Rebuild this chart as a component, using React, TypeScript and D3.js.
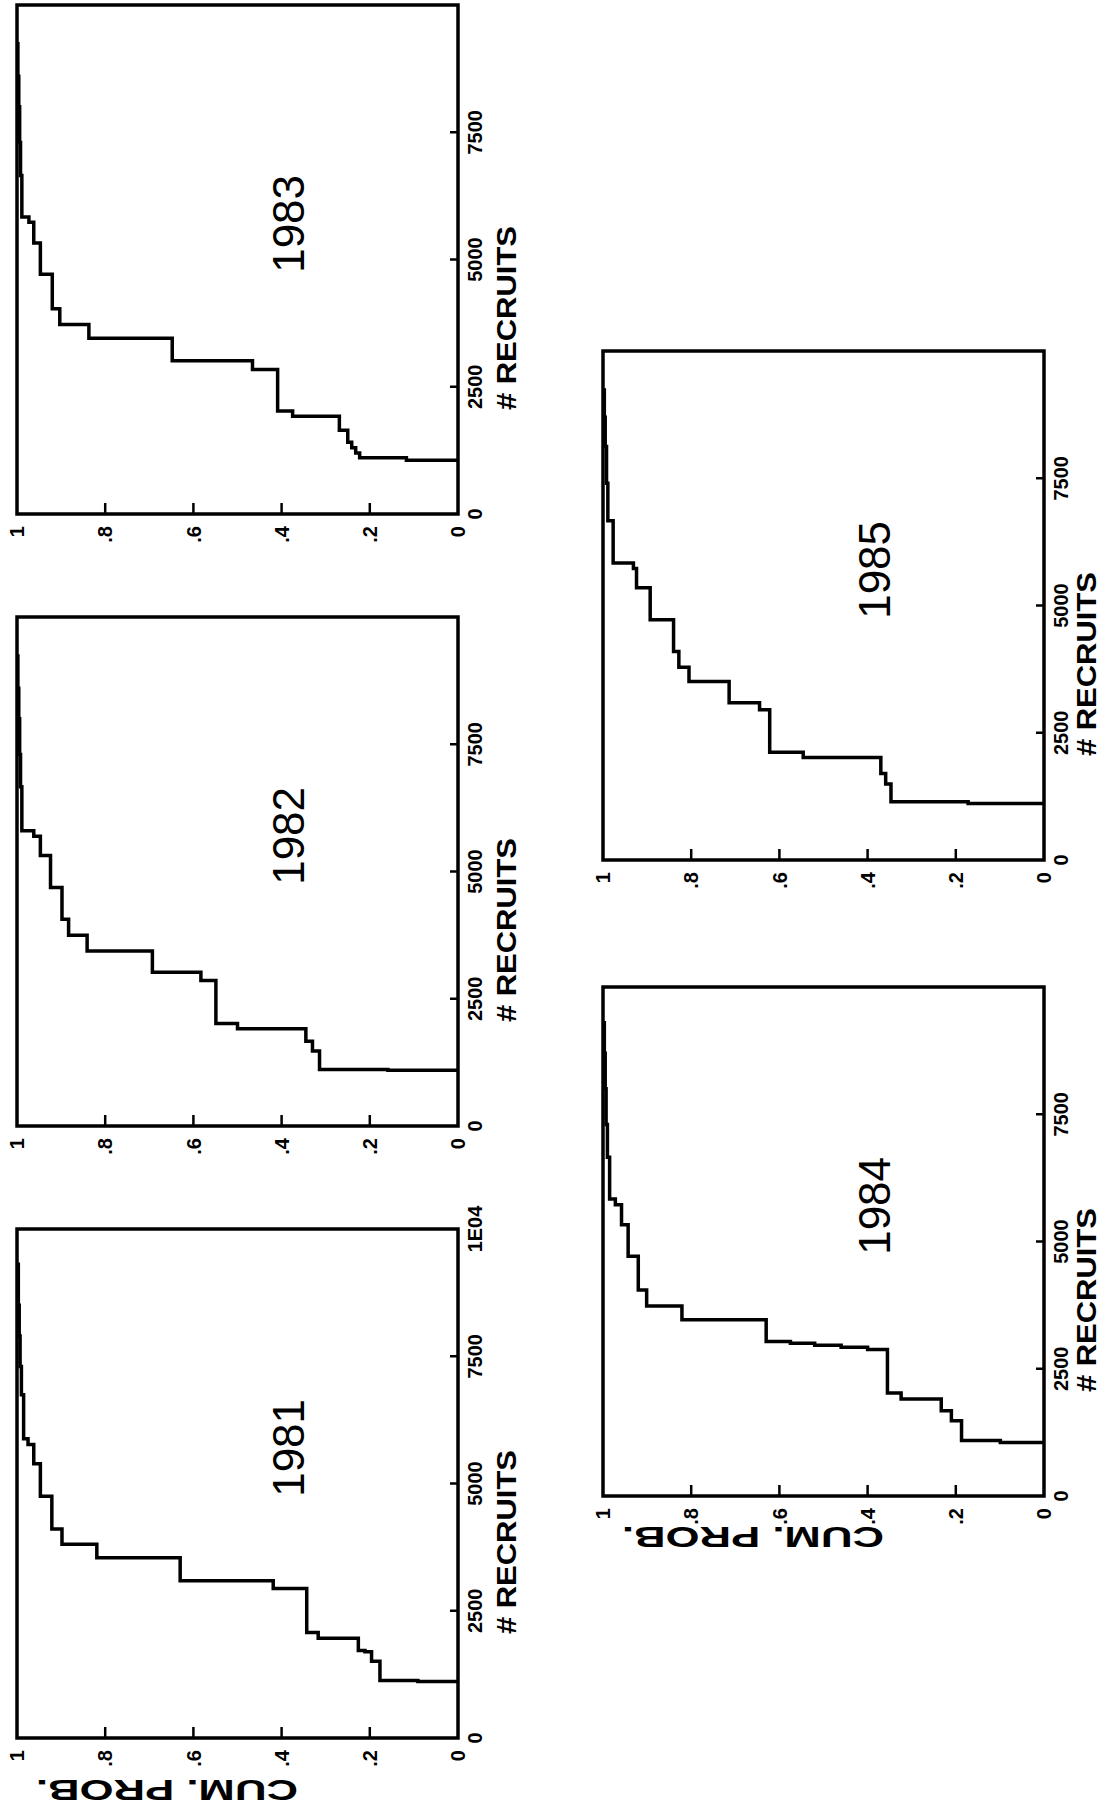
import * as React from 'react'
import * as d3 from 'd3'

const PAGE_W = 1104
const PAGE_H = 1811
const PANEL_W = 509
const PANEL_H = 441
const FONT = 'Liberation Sans, Arial, sans-serif'

const years = ['1981', '1982', '1983', '1984', '1985']

// # recruits where the cumulative probability steps up, and the level it steps to
const recruits1981 = [1110, 1130, 1507, 1696, 1720, 1959, 2072, 2939, 3090, 3542, 3806, 4107, 4748, 5388, 5765, 5878, 6745, 7300, 7900, 8500, 9307]
const prob1981 = [0.091, 0.177, 0.196, 0.211, 0.226, 0.317, 0.343, 0.419, 0.63, 0.819, 0.898, 0.921, 0.947, 0.962, 0.975, 0.985, 0.99, 0.993, 0.995, 0.997, 1.0]

const recruits1982 = [1095, 1111, 1472, 1667, 1910, 2014, 2861, 3021, 3438, 3750, 4063, 4688, 5313, 5694, 5799, 6667, 7300, 8000, 8600, 9236]
const prob1982 = [0.159, 0.314, 0.33, 0.345, 0.5, 0.549, 0.583, 0.693, 0.841, 0.883, 0.898, 0.924, 0.947, 0.962, 0.989, 0.992, 0.994, 0.996, 0.998, 1.0]

const recruits1983 = [1055, 1103, 1200, 1300, 1409, 1647, 1920, 2022, 2839, 3009, 3451, 3724, 4030, 4711, 5323, 5732, 5834, 6651, 7300, 8000, 8600, 9238]
const prob1983 = [0.117, 0.223, 0.232, 0.241, 0.25, 0.269, 0.375, 0.409, 0.466, 0.648, 0.837, 0.903, 0.92, 0.947, 0.962, 0.973, 0.989, 0.992, 0.994, 0.996, 0.998, 1.0]

const recruits1984 = [1051, 1089, 1479, 1673, 1907, 2023, 2879, 2920, 2960, 3000, 3035, 3463, 3735, 4047, 4708, 5331, 5720, 5837, 6654, 7300, 8000, 8700, 9300]
const prob1984 = [0.099, 0.187, 0.21, 0.233, 0.324, 0.355, 0.4, 0.46, 0.52, 0.575, 0.63, 0.821, 0.901, 0.92, 0.943, 0.958, 0.972, 0.985, 0.99, 0.993, 0.995, 0.997, 1.0]

const recruits1985 = [1111, 1146, 1493, 1701, 2014, 2118, 2951, 3090, 3507, 3785, 4097, 4722, 5347, 5729, 5833, 6667, 7400, 8125, 8700, 9236]
const prob1985 = [0.172, 0.347, 0.359, 0.37, 0.546, 0.622, 0.645, 0.714, 0.805, 0.828, 0.84, 0.893, 0.924, 0.931, 0.977, 0.989, 0.992, 0.995, 0.997, 1.0]

const recruitTicks = [2500, 5000, 7500]
const recruitLabels = [0, 2500, 5000, 7500]
const probTicks = [0.2, 0.4, 0.6, 0.8]
const probLabelValues = [0, 0.2, 0.4, 0.6, 0.8, 1]
const probLabels = ['0', '.2', '.4', '.6', '.8', '1']

// panel origin in the landscape page frame (the page is printed turned a quarter)
const layout: Record<
  string,
  { u: number; v: number; probTitle: number; lastLabel: boolean; titleGap: number }
> = {
  '1981': { u: 73, v: 17, probTitle: -42, lastLabel: true, titleGap: 58 },
  '1982': { u: 685, v: 17, probTitle: 0, lastLabel: false, titleGap: 58 },
  '1983': { u: 1297, v: 17, probTitle: 0, lastLabel: false, titleGap: 58 },
  '1984': { u: 315, v: 603, probTitle: -31, lastLabel: false, titleGap: 52 },
  '1985': { u: 951, v: 603, probTitle: 0, lastLabel: false, titleGap: 52 }
}

const seriesByYear: Record<string, [number[], number[]]> = {
  '1981': [recruits1981, prob1981],
  '1982': [recruits1982, prob1982],
  '1983': [recruits1983, prob1983],
  '1984': [recruits1984, prob1984],
  '1985': [recruits1985, prob1985]
}

interface PanelProps {
  year: string
}

function Panel({ year }: PanelProps) {
  const { u, v, probTitle, lastLabel, titleGap } = layout[year]
  const [recruits, probs] = seriesByYear[year]
  const x = d3.scaleLinear().domain([0, 10000]).range([0, PANEL_W])
  const y = d3.scaleLinear().domain([0, 1]).range([PANEL_H, 0])
  const points: [number, number][] = [
    [recruits[0], 0],
    ...recruits.map((r, i) => [r, probs[i]] as [number, number])
  ]
  const stepLine = d3
    .line<[number, number]>()
    .x(d => x(d[0]))
    .y(d => y(d[1]))
    .curve(d3.curveStepAfter)
  const labels = lastLabel ? [...recruitLabels, 10000] : recruitLabels

  return (
    <g transform={`translate(${u},${v})`}>
      <rect
        x={0}
        y={0}
        width={PANEL_W}
        height={PANEL_H}
        fill="none"
        stroke="#000"
        strokeWidth={3.5}
      />
      {recruitTicks.map(t => (
        <line
          key={'rt' + t}
          x1={x(t)}
          x2={x(t)}
          y1={PANEL_H}
          y2={PANEL_H - 8}
          stroke="#000"
          strokeWidth={2.5}
        />
      ))}
      {probTicks.map(p => (
        <line
          key={'pt' + p}
          x1={0}
          x2={11}
          y1={y(p)}
          y2={y(p)}
          stroke="#000"
          strokeWidth={2.5}
        />
      ))}
      <path
        d={stepLine(points) ?? ''}
        fill="none"
        stroke="#000"
        strokeWidth={3.5}
        strokeLinejoin="miter"
      />
      {labels.map(t => (
        <text
          key={'rl' + t}
          x={x(t)}
          y={PANEL_H + 24}
          textAnchor="middle"
          fontFamily={FONT}
          fontWeight="bold"
          fontSize={20}
        >
          {t === 10000 ? '1E04' : t}
        </text>
      ))}
      <text
        x={x(3850)}
        y={PANEL_H + titleGap}
        textAnchor="middle"
        fontFamily={FONT}
        fontWeight="bold"
        fontSize={27}
        textLength={184}
        lengthAdjust="spacingAndGlyphs"
      >
        # RECRUITS
      </text>
      {probLabelValues.map((p, i) => (
        <text
          key={'pl' + p}
          x={-12}
          y={y(p)}
          dy="0.36em"
          textAnchor="end"
          fontFamily={FONT}
          fontWeight="bold"
          fontSize={20}
        >
          {probLabels[i]}
        </text>
      ))}
      <text
        x={x(5700)}
        y={y(0.35)}
        textAnchor="middle"
        fontFamily={FONT}
        fontSize={44}
      >
        {year}
      </text>
      {probTitle !== 0 && (
        <text
          transform={`translate(${probTitle},${y(0.66)}) rotate(-90)`}
          textAnchor="middle"
          fontFamily={FONT}
          fontWeight="bold"
          fontSize={30}
          textLength={262}
          lengthAdjust="spacingAndGlyphs"
        >
          CUM. PROB.
        </text>
      )}
    </g>
  )
}

export default function App() {
  return (
    <svg
      width={PAGE_W}
      height={PAGE_H}
      viewBox={`0 0 ${PAGE_W} ${PAGE_H}`}
      style={{ position: 'absolute', left: 0, top: 0, background: '#fff' }}
    >
      <rect x={0} y={0} width={PAGE_W} height={PAGE_H} fill="#fff" />
      <g transform={`translate(0,${PAGE_H}) rotate(-90)`}>
        {years.map(yr => (
          <Panel key={yr} year={yr} />
        ))}
      </g>
    </svg>
  )
}
